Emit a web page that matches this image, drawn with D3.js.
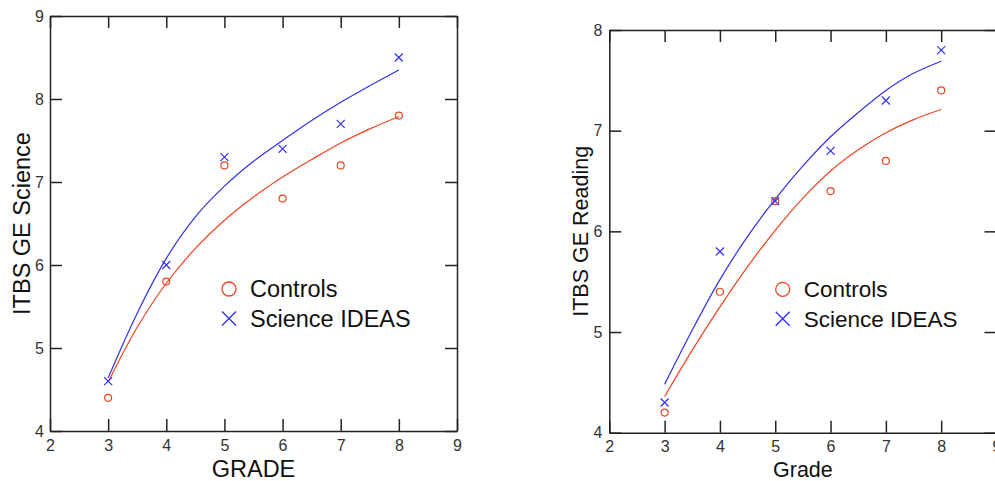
<!DOCTYPE html>
<html>
<head>
<meta charset="utf-8">
<script src="https://cdn.jsdelivr.net/npm/d3@7"></script>
<style>
  body { margin: 0; background: #fff; }
  svg { display: block; font-family: "Liberation Sans", Arial, sans-serif; }
</style>
</head>
<body>
<div id="chart"></div>
<script>
// grades on the x axis
const grades = [3, 4, 5, 6, 7, 8];
const curveGrades = [3, 3.5, 4, 4.5, 5, 5.5, 6, 6.5, 7, 7.5, 8];

// left panel: ITBS GE Science
const scienceControls = [4.4, 5.8, 7.2, 6.8, 7.2, 7.8];
const scienceIdeas = [4.6, 6.0, 7.3, 7.4, 7.7, 8.5];
const scienceControlsFit = [4.59, 5.25, 5.78, 6.2, 6.54, 6.82, 7.06, 7.27, 7.47, 7.64, 7.79];
const scienceIdeasFit = [4.64, 5.42, 6.08, 6.58, 6.95, 7.25, 7.5, 7.74, 7.96, 8.16, 8.35];

// right panel: ITBS GE Reading
const readingControls = [4.2, 5.4, 6.3, 6.4, 6.7, 7.4];
const readingIdeas = [4.3, 5.8, 6.3, 6.8, 7.3, 7.8];
const readingControlsFit = [4.36, 4.82, 5.25, 5.65, 6.01, 6.33, 6.6, 6.81, 6.98, 7.11, 7.21];
const readingIdeasFit = [4.48, 5.02, 5.52, 5.95, 6.32, 6.65, 6.94, 7.18, 7.4, 7.57, 7.69];

const xTicks = [2, 3, 4, 5, 6, 7, 8, 9];
const seriesNames = ["Controls", "Science IDEAS"];

const red = "#ee4422";
const blue = "#3030ee";

const svg = d3.select("#chart")
    .append("svg")
    .attr("width", 995)
    .attr("height", 481);

function panel(opt) {
    const x = d3.scaleLinear().domain([2, 9]).range([opt.left, opt.right]);
    const y = d3.scaleLinear().domain(opt.yDomain).range([opt.bottom, opt.top]);
    const yTicks = d3.range(opt.yDomain[0], opt.yDomain[1] + 1);
    const g = svg.append("g");

    // frame + inward ticks
    g.append("g")
        .attr("transform", `translate(0,${opt.bottom})`)
        .call(d3.axisBottom(x).tickValues(xTicks).tickSizeInner(-12).tickSizeOuter(0)
            .tickPadding(opt.xPad).tickFormat(d3.format("d")));
    g.append("g")
        .attr("transform", `translate(0,${opt.top})`)
        .call(d3.axisTop(x).tickValues(xTicks).tickSizeInner(-12).tickSizeOuter(0).tickFormat(""));
    g.append("g")
        .attr("transform", `translate(${opt.left},0)`)
        .call(d3.axisLeft(y).tickValues(yTicks).tickSizeInner(-12).tickSizeOuter(0)
            .tickPadding(opt.yPad).tickFormat(d3.format("d")));
    g.append("g")
        .attr("transform", `translate(${opt.right},0)`)
        .call(d3.axisRight(y).tickValues(yTicks).tickSizeInner(-12).tickSizeOuter(0).tickFormat(""));

    g.selectAll(".domain, .tick line")
        .attr("stroke", "#222")
        .attr("stroke-width", 1.5);
    g.selectAll(".tick text")
        .attr("fill", "#333")
        .style("font-size", "16px");

    // fitted curves
    const line = d3.line()
        .x((d, i) => x(curveGrades[i]))
        .y(d => y(d))
        .curve(d3.curveCatmullRom);

    g.append("path").datum(opt.controlsFit)
        .attr("d", line).attr("fill", "none").attr("stroke", red).attr("stroke-width", 1.2);
    g.append("path").datum(opt.ideasFit)
        .attr("d", line).attr("fill", "none").attr("stroke", blue).attr("stroke-width", 1.2);

    // markers
    g.selectAll(".ctrl").data(opt.controls).enter().append("circle")
        .attr("cx", (d, i) => x(grades[i]))
        .attr("cy", d => y(d))
        .attr("r", 3.5)
        .attr("fill", "none")
        .attr("stroke", red)
        .attr("stroke-width", 1.2);

    const s = 4;
    g.selectAll(".ideas").data(opt.ideas).enter().append("path")
        .attr("d", (d, i) => {
            const cx = x(grades[i]), cy = y(d);
            return `M${cx - s},${cy - s}L${cx + s},${cy + s}M${cx - s},${cy + s}L${cx + s},${cy - s}`;
        })
        .attr("stroke", blue)
        .attr("stroke-width", 1.2);

    // legend
    const lg = g.append("g");
    lg.append("circle")
        .attr("cx", opt.legX).attr("cy", opt.legY).attr("r", 7)
        .attr("fill", "none").attr("stroke", red).attr("stroke-width", 1.3);
    const t = 7;
    const ly = opt.legY + 29.5;
    lg.append("path")
        .attr("d", `M${opt.legX - t},${ly - t}L${opt.legX + t},${ly + t}M${opt.legX - t},${ly + t}L${opt.legX + t},${ly - t}`)
        .attr("stroke", blue).attr("stroke-width", 1.3);
    lg.selectAll("text").data(seriesNames).enter().append("text")
        .attr("x", opt.legX + 21)
        .attr("y", (d, i) => opt.legY + i * 29.5)
        .attr("dy", "0.35em")
        .style("font-size", opt.legFont + "px")
        .attr("fill", "#111")
        .text(d => d);

    // axis titles
    g.append("text")
        .attr("x", (opt.left + opt.right) / 2)
        .attr("y", 477)
        .attr("text-anchor", "middle")
        .style("font-size", opt.titleFont + "px")
        .attr("fill", "#111")
        .text(opt.xTitle);
    g.append("text")
        .attr("transform", `translate(${opt.yTitleX},${(opt.top + opt.bottom) / 2}) rotate(-90)`)
        .attr("text-anchor", "middle")
        .style("font-size", opt.titleFont + "px")
        .attr("fill", "#111")
        .text(opt.yTitle);
}

panel({
    left: 50, right: 457, top: 16, bottom: 431,
    yDomain: [4, 9], xPad: 9, yPad: 6,
    controls: scienceControls, ideas: scienceIdeas,
    controlsFit: scienceControlsFit, ideasFit: scienceIdeasFit,
    legX: 229, legY: 289, legFont: 23.5,
    xTitle: "GRADE", yTitle: "ITBS GE Science",
    titleFont: 23.5, yTitleX: 30
});

panel({
    left: 609.3, right: 996.5, top: 30, bottom: 432.7,
    yDomain: [4, 8], xPad: 8, yPad: 7,
    controls: readingControls, ideas: readingIdeas,
    controlsFit: readingControlsFit, ideasFit: readingIdeasFit,
    legX: 782.7, legY: 289.3, legFont: 22.5,
    xTitle: "Grade", yTitle: "ITBS GE Reading",
    titleFont: 21.5, yTitleX: 588
});
</script>
</body>
</html>
